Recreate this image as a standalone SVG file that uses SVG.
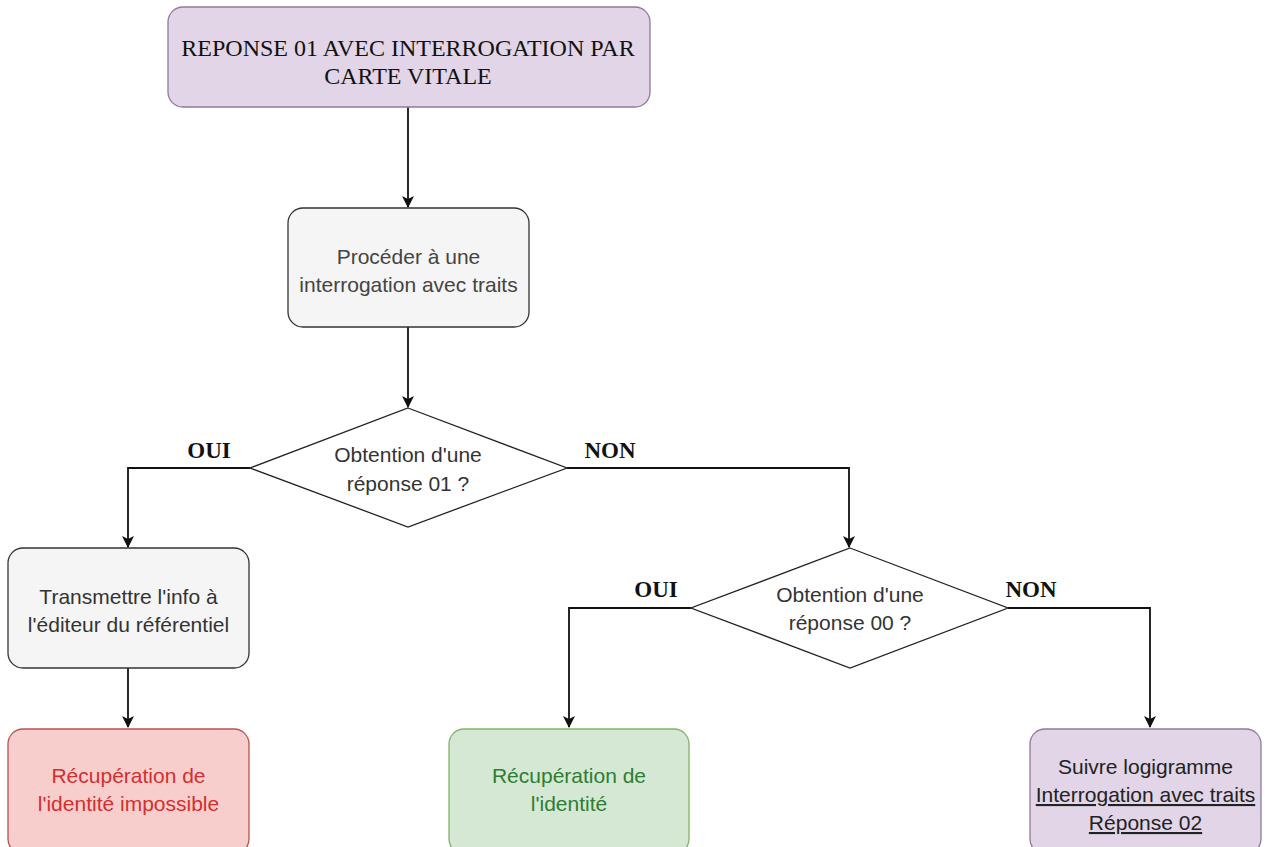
<svg xmlns="http://www.w3.org/2000/svg" width="1265" height="847" viewBox="0 0 1265 847">
<style>
.s{font-family:"Liberation Sans",Arial,sans-serif;font-size:21px;text-anchor:middle}
.t{font-family:"Liberation Serif","Times New Roman",serif;text-anchor:middle}
.lbl{font-family:"Liberation Serif","Times New Roman",serif;font-size:23px;font-weight:bold;text-anchor:middle;fill:#111}
.e{fill:none;stroke:#111;stroke-width:1.8}
</style>
<defs>
<marker id="ah" viewBox="0 0 12 12" refX="11" refY="6" markerWidth="12" markerHeight="12" markerUnits="userSpaceOnUse" orient="auto">
<path d="M0,0 L12,6 L0,12 L3,6 Z" fill="#111"/>
</marker>
</defs>
<rect width="1265" height="847" fill="#fff"/>
<g id="connectors">
<path class="e" d="M408,107 V207" marker-end="url(#ah)"/>
<path class="e" d="M408,327 V407" marker-end="url(#ah)"/>
<path class="e" d="M250,468 H128 V547" marker-end="url(#ah)"/>
<path class="e" d="M567,468 H849 V547" marker-end="url(#ah)"/>
<path class="e" d="M128,668 V727" marker-end="url(#ah)"/>
<path class="e" d="M691,608 H569 V727" marker-end="url(#ah)"/>
<path class="e" d="M1008,608 H1150 V727" marker-end="url(#ah)"/>
<text class="lbl" x="209" y="458">OUI</text>
<text class="lbl" x="610" y="458">NON</text>
<text class="lbl" x="656" y="597">OUI</text>
<text class="lbl" x="1031" y="597">NON</text>
</g>
<g id="n-start">
<rect x="168" y="7" width="482" height="100" rx="15" fill="#e1d5e7" stroke="#8f7a9c" stroke-width="1.3"/>
<text class="t" font-size="24" fill="#111"><tspan x="408" y="56">REPONSE 01 AVEC INTERROGATION PAR</tspan><tspan x="408" y="84">CARTE VITALE</tspan></text>
</g>
<g id="n-proceder">
<rect x="288" y="208" width="241" height="119" rx="15" fill="#f5f5f5" stroke="#333" stroke-width="1.3"/>
<text class="s" fill="#444"><tspan x="408.5" y="264">Procéder à une</tspan><tspan x="408.5" y="292">interrogation avec traits</tspan></text>
</g>
<g id="n-dec01">
<polygon points="408,408 567,468 408,527 250,468" fill="#fff" stroke="#222" stroke-width="1.3"/>
<text class="s" fill="#333"><tspan x="408" y="462">Obtention d'une</tspan><tspan x="408" y="491">réponse 01 ?</tspan></text>
</g>
<g id="n-transmettre">
<rect x="8" y="548" width="241" height="120" rx="15" fill="#f5f5f5" stroke="#333" stroke-width="1.3"/>
<text class="s" fill="#333"><tspan x="128.5" y="604">Transmettre l'info à</tspan><tspan x="128.5" y="632">l'éditeur du référentiel</tspan></text>
</g>
<g id="n-impossible">
<rect x="8" y="729" width="241" height="125" rx="15" fill="#f8cecc" stroke="#b85450" stroke-width="1.3"/>
<text class="s" fill="#d32f2f"><tspan x="128.5" y="783">Récupération de</tspan><tspan x="128.5" y="811">l'identité impossible</tspan></text>
</g>
<g id="n-dec00">
<polygon points="850,548 1008,608 850,668 691,608" fill="#fff" stroke="#222" stroke-width="1.3"/>
<text class="s" fill="#333"><tspan x="850" y="602">Obtention d'une</tspan><tspan x="850" y="630">réponse 00 ?</tspan></text>
</g>
<g id="n-identite">
<rect x="449" y="729" width="240" height="125" rx="15" fill="#d5e8d4" stroke="#82b366" stroke-width="1.3"/>
<text class="s" fill="#2e7d32"><tspan x="569" y="783">Récupération de</tspan><tspan x="569" y="811">l'identité</tspan></text>
</g>
<g id="n-suivre">
<rect x="1030" y="729" width="231" height="125" rx="15" fill="#e1d5e7" stroke="#8f7a9c" stroke-width="1.3"/>
<text class="s" fill="#222"><tspan x="1145.5" y="774">Suivre logigramme</tspan><tspan x="1145.5" y="802" text-decoration="underline">Interrogation avec traits</tspan><tspan x="1145.5" y="830" text-decoration="underline">Réponse 02</tspan></text>
</g>
</svg>
